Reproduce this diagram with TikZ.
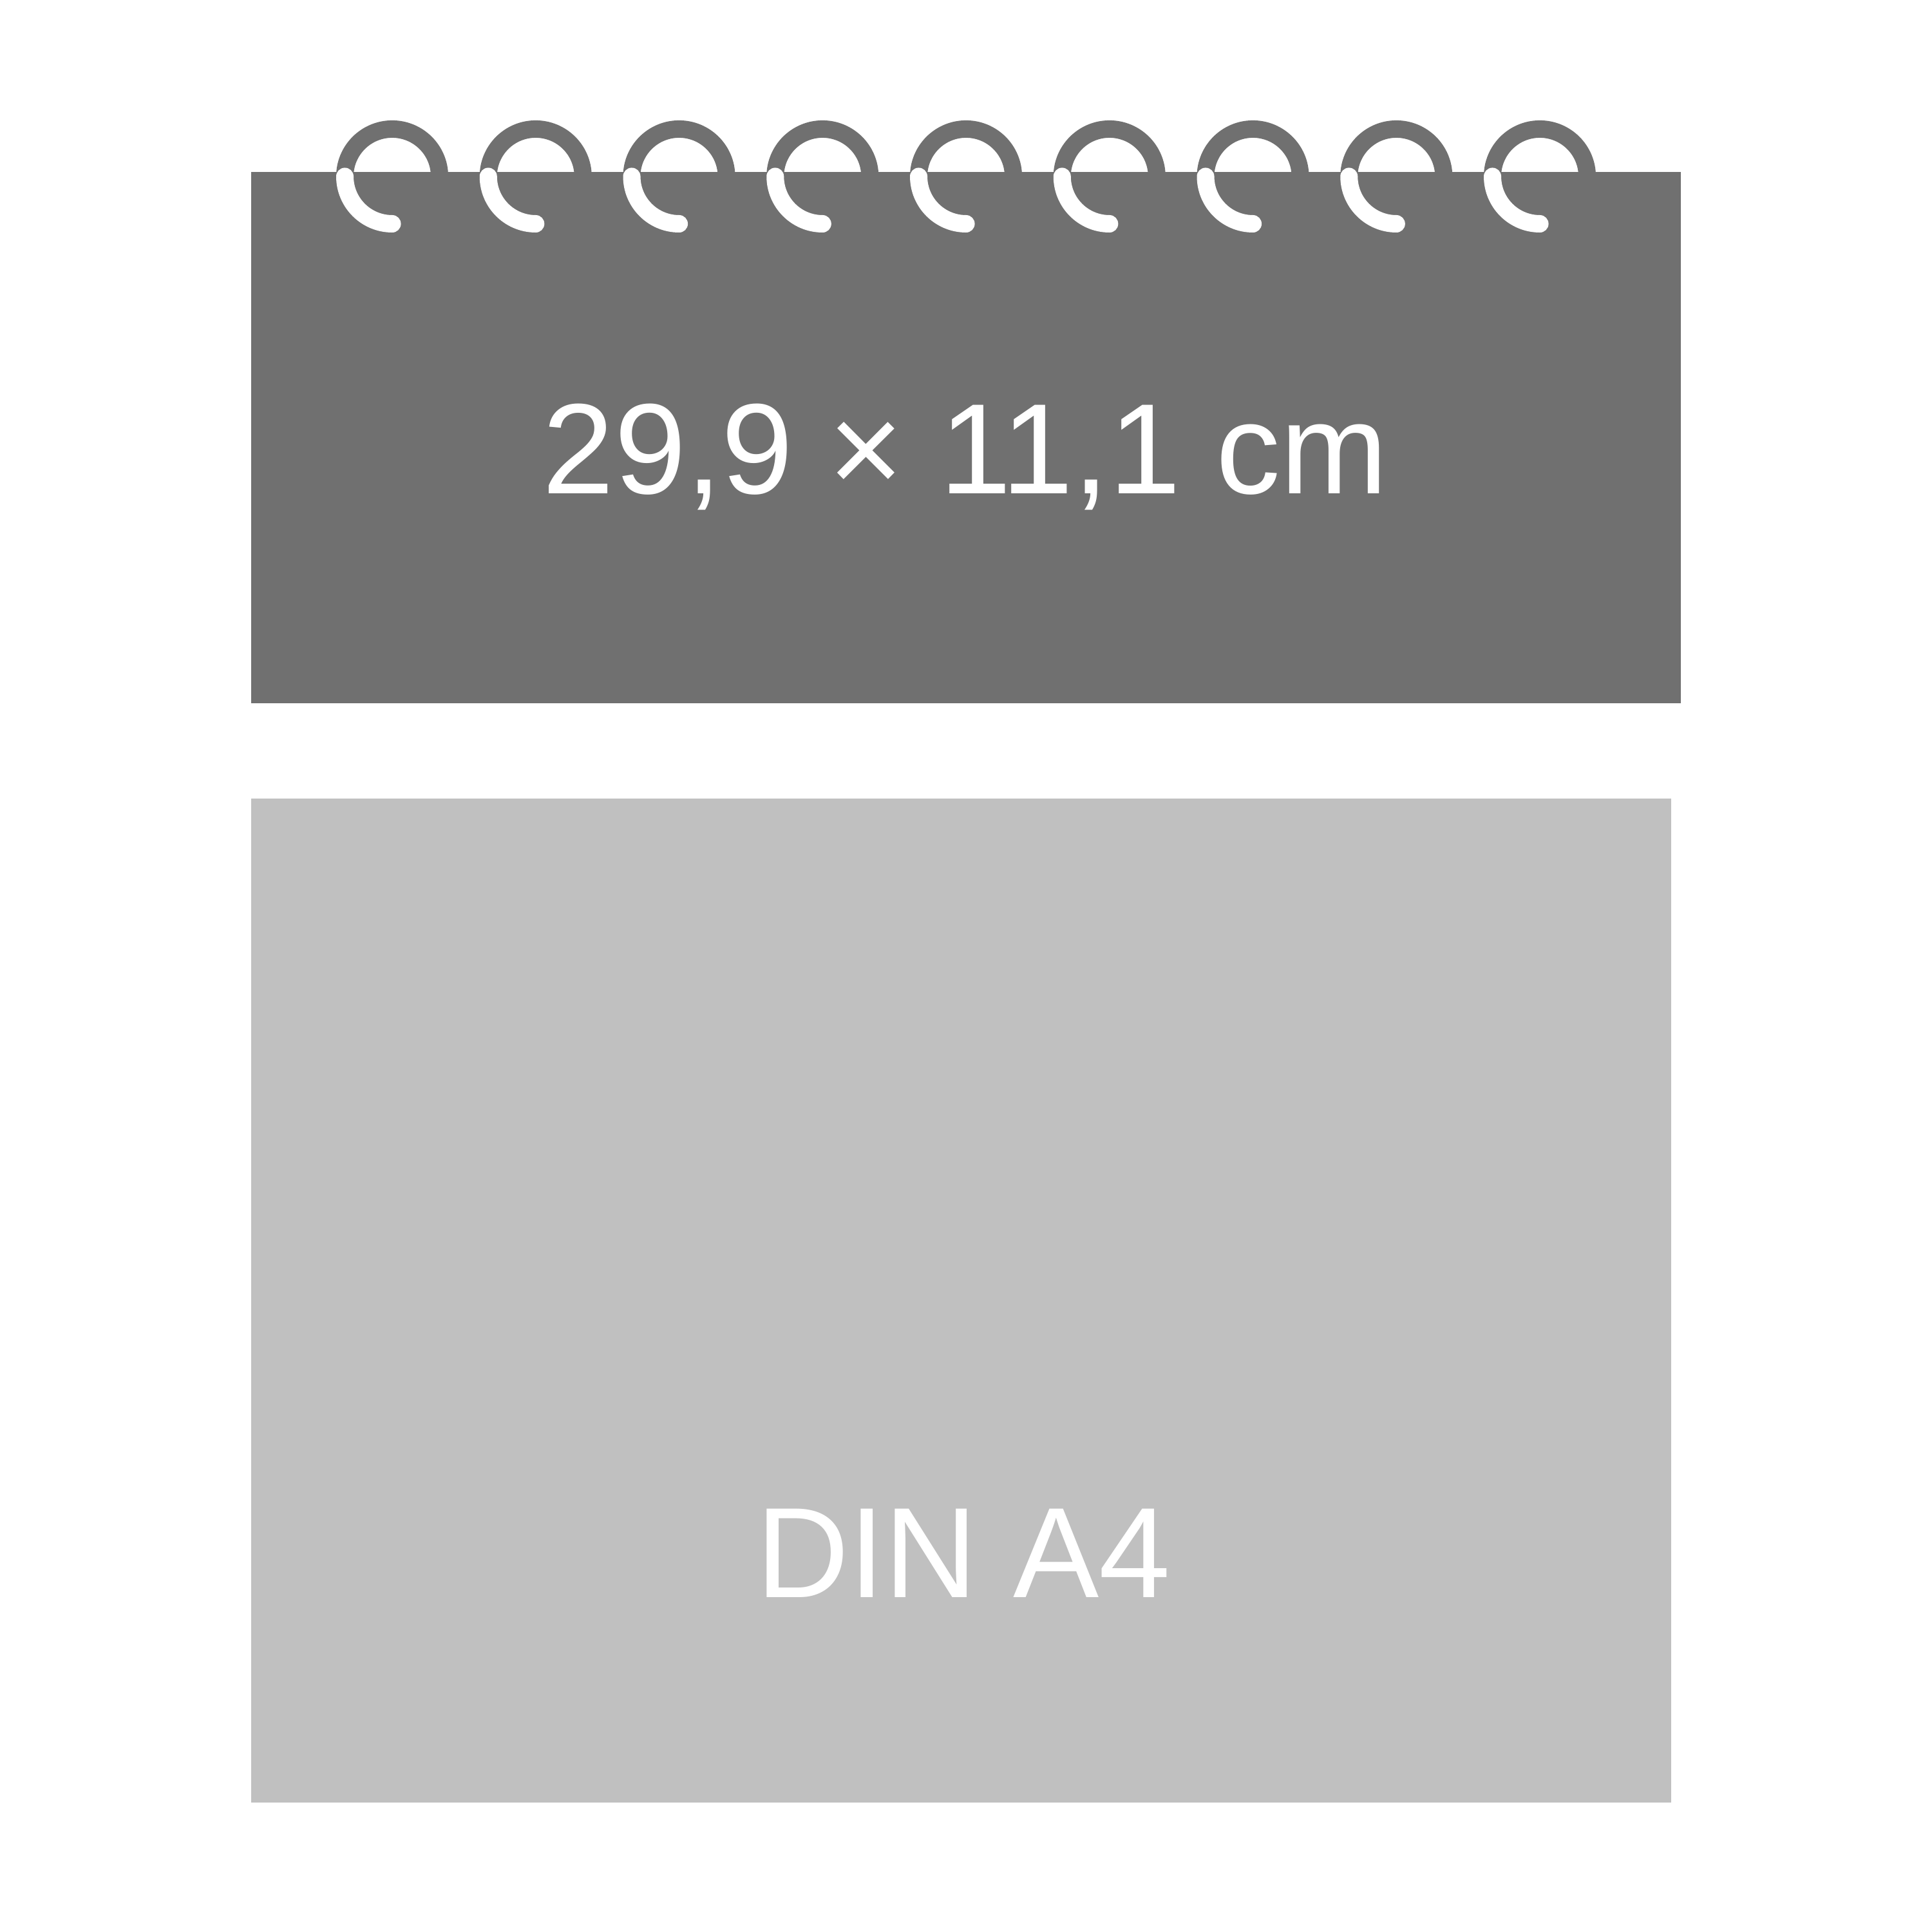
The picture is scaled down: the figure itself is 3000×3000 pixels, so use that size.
\documentclass[tikz,border=0pt]{standalone}
\usepackage{fontspec}
\setmainfont{Liberation Sans}
\definecolor{calgray}{HTML}{707070}
\definecolor{pagegray}{HTML}{C0C0C0}
\tikzset{
  ring/.style={draw=calgray, line width=0.27cm},
  hook/.style={draw=white, line width=0.27cm, line cap=round},
  sizelabel/.style={text=white, anchor=base, inner sep=0pt, font=\fontsize{56.8}{60}\selectfont}
}

\begin{document}
\begin{tikzpicture}[x=0.01cm, y=0.01cm]
            \useasboundingbox (0,0) rectangle (3000,3000);
            % spiral rings behind the calendar
            \foreach \i in {0,...,8}
              \draw[ring] (609+222.75*\i,2726) circle [radius=0.735cm];
            \fill[calgray] (390,1908) rectangle (2610,2733);
            \foreach \i in {0,...,8}
              \draw[hook] (609+222.75*\i-73.5,2726) arc [start angle=180, end angle=270, radius=0.735cm];
            \node[sizelabel] (size) at (1499,2233) {29,9 × 11,1 cm};
            % paper for comparison
            \fill[pagegray] (390,201) rectangle (2595,1760);
            \node[sizelabel] (din) at (1496,519) {DIN A4};
        \end{tikzpicture}
\end{document}
